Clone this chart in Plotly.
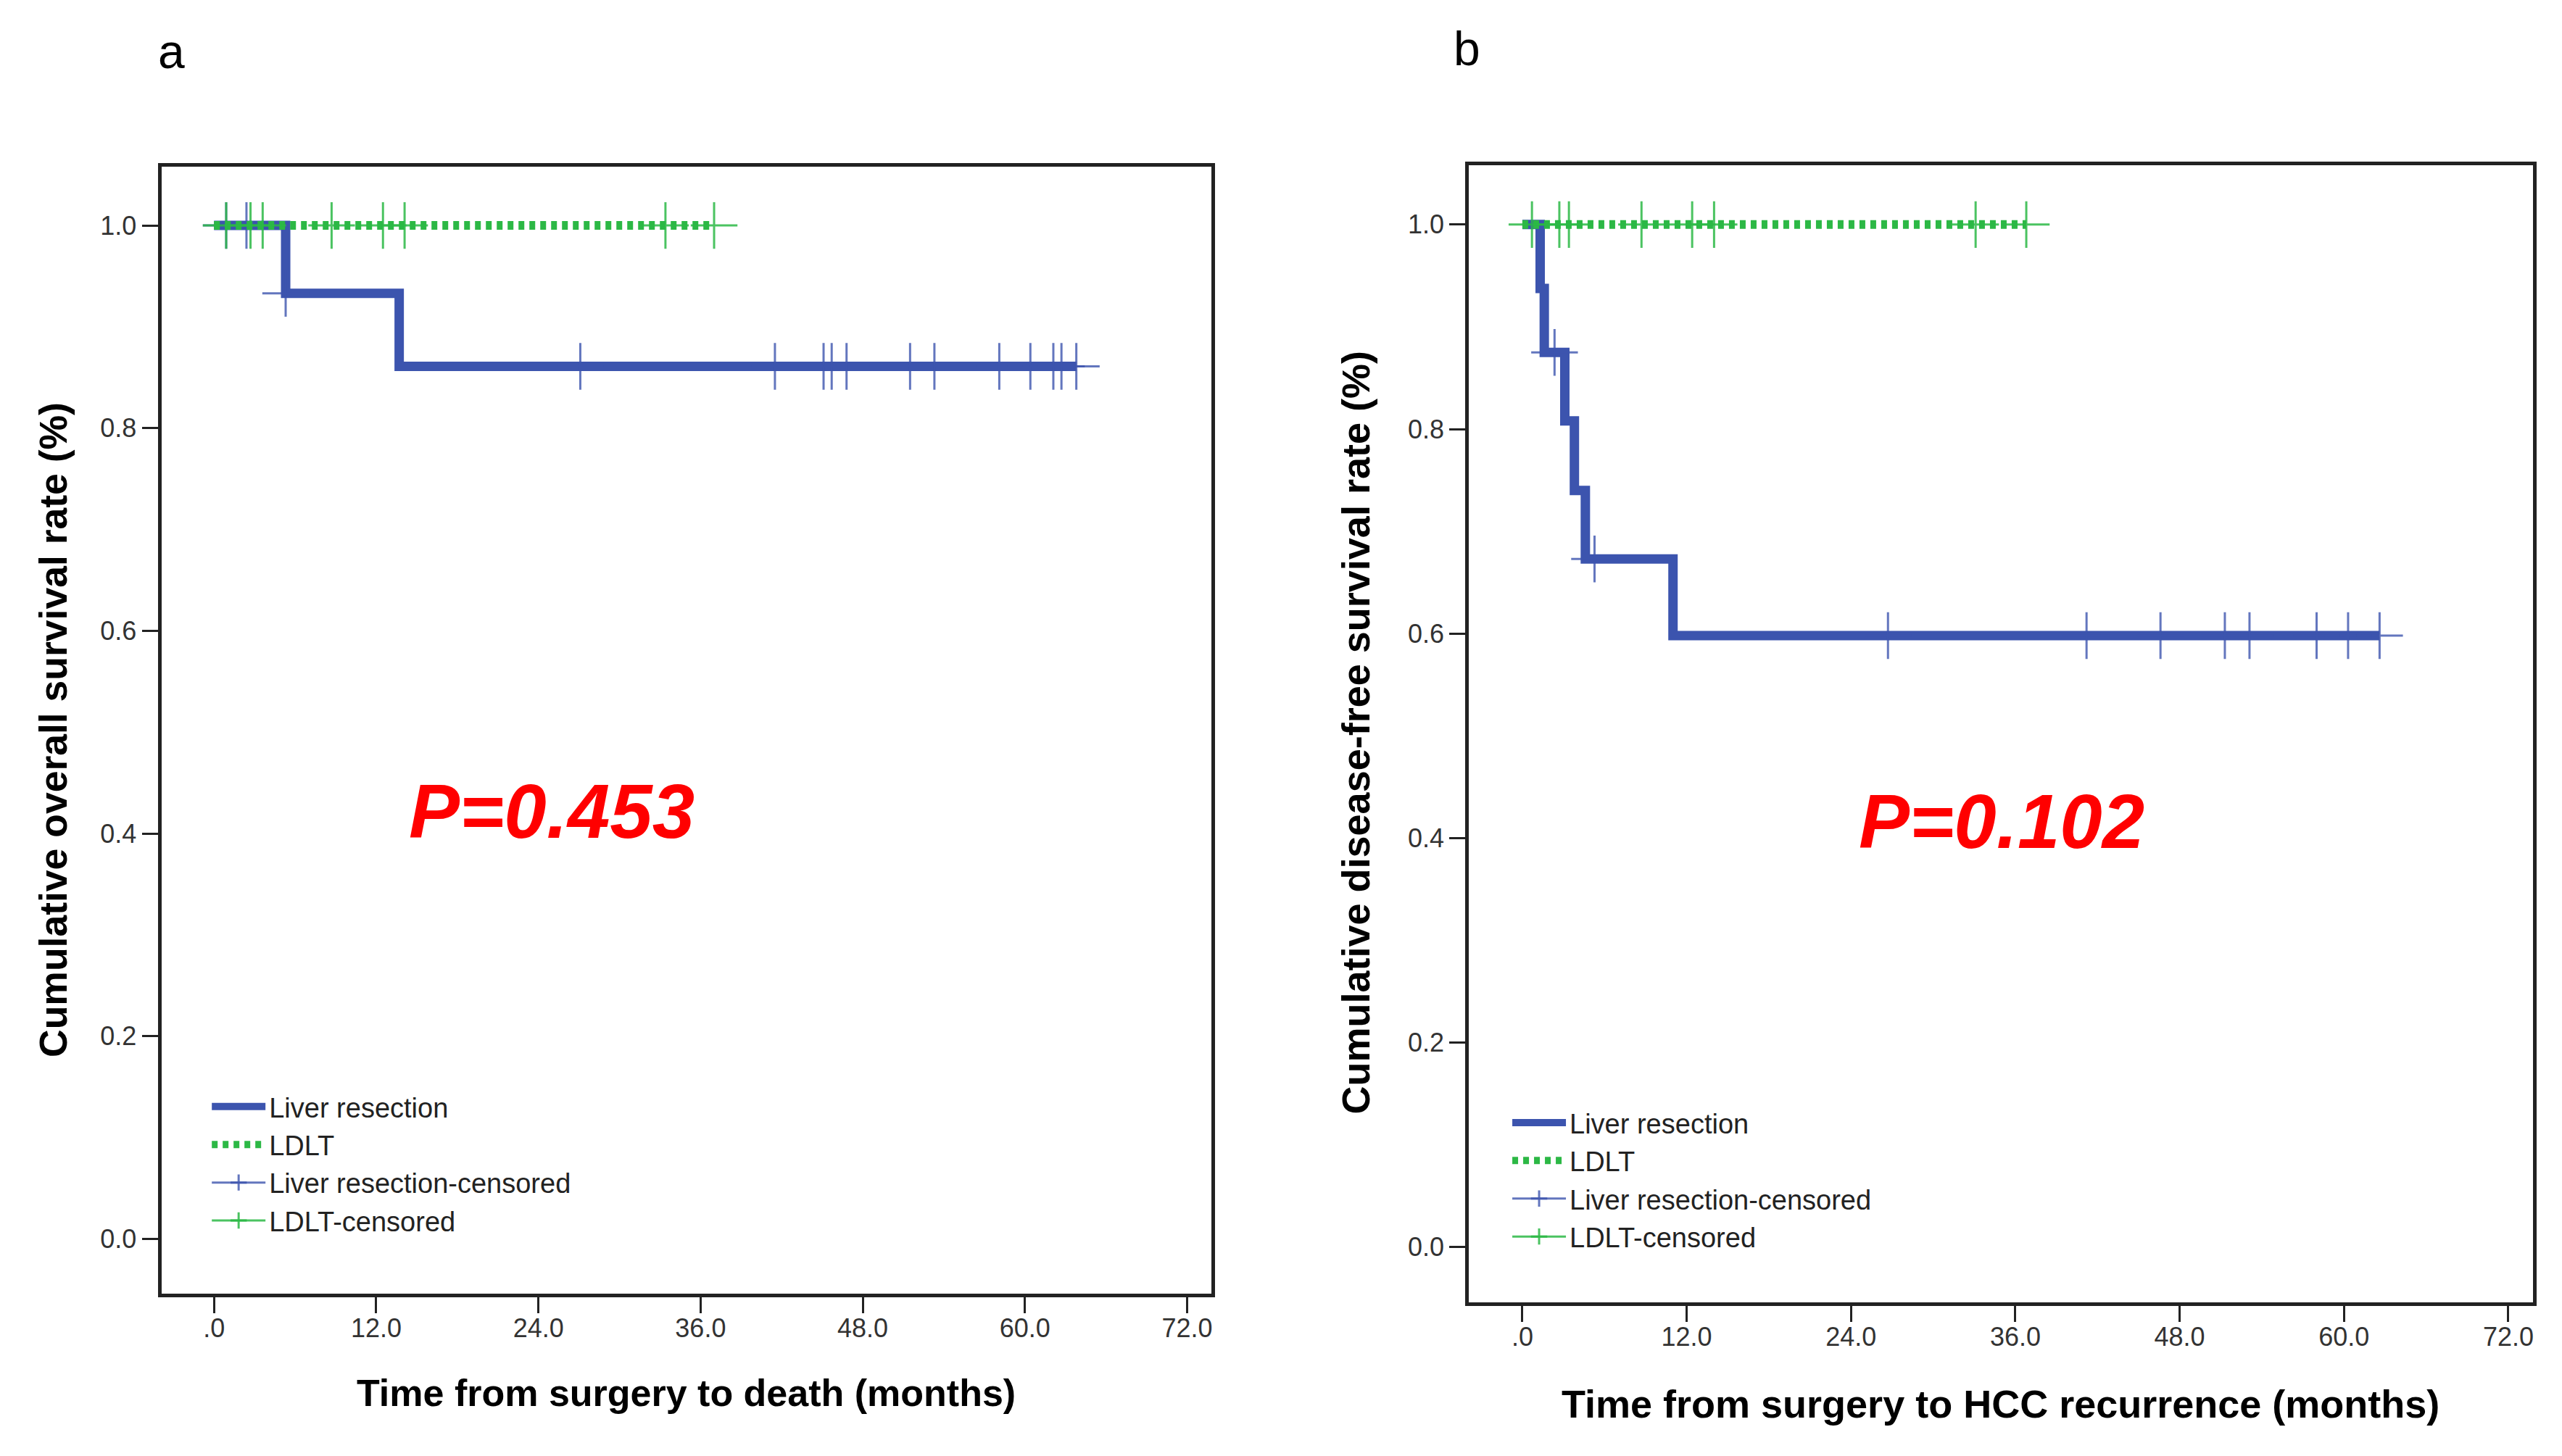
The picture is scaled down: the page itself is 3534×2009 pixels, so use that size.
import plotly.graph_objects as go

# Panel a - overall survival
os_lr_time = [0, 5.3, 13.7, 63.8]
os_lr_surv = [1.0, 0.933, 0.861, 0.861]
os_lr_cens_time = [0.9, 2.4, 5.3, 27.1, 41.5, 45.1, 45.7, 46.8, 51.5, 53.3, 58.1, 60.4, 62.1, 62.7, 63.8]
os_lr_cens_surv = [1.0, 1.0, 0.933] + [0.861] * 12

os_ldlt_time = [0, 37.0]
os_ldlt_surv = [1.0, 1.0]
os_ldlt_cens_time = [0.9, 2.7, 3.6, 8.7, 12.5, 14.1, 33.4, 37.0]
os_ldlt_cens_surv = [1.0] * 8

# Panel b - disease-free survival
dfs_lr_time = [0, 1.3, 1.6, 3.1, 3.8, 4.6, 11.0, 62.6]
dfs_lr_surv = [1.0, 0.9375, 0.875, 0.808, 0.740, 0.673, 0.598, 0.598]
dfs_lr_cens_time = [2.35, 5.27, 26.7, 41.2, 46.6, 51.3, 53.1, 58.0, 60.3, 62.6]
dfs_lr_cens_surv = [0.875, 0.673] + [0.598] * 8

dfs_ldlt_time = [0, 36.8]
dfs_ldlt_surv = [1.0, 1.0]
dfs_ldlt_cens_time = [0.7, 2.7, 3.4, 8.7, 12.4, 14.0, 33.1, 36.8]
dfs_ldlt_cens_surv = [1.0] * 8

x_ticks = [0, 12, 24, 36, 48, 60, 72]
x_ticktext = [".0", "12.0", "24.0", "36.0", "48.0", "60.0", "72.0"]
y_ticks = [0, 0.2, 0.4, 0.6, 0.8, 1.0]
y_ticktext = ["0.0", "0.2", "0.4", "0.6", "0.8", "1.0"]

BLUE = "#3C54AE"
GREEN = "#2CB845"
BLUE_CENS = "rgba(60,84,174,0.8)"
GREEN_CENS = "rgba(44,184,69,0.85)"
FONT = "Liberation Sans, Arial, sans-serif"

fig = go.Figure()


def add_panel(xa, ya, legend, lr_t, lr_s, lr_ct, lr_cs, ld_t, ld_s, ld_ct, ld_cs):
    # drawing order: blue line, blue censors, green line, green censors
    fig.add_trace(go.Scatter(x=lr_t, y=lr_s, mode="lines", line_shape="hv",
                             line=dict(color=BLUE, width=13), name="Liver resection",
                             xaxis=xa, yaxis=ya, legend=legend, legendrank=1))
    fig.add_trace(go.Scatter(x=lr_ct, y=lr_cs, mode="markers",
                             marker=dict(symbol="cross-thin-open", size=46, color=BLUE_CENS,
                                         line=dict(width=3)),
                             showlegend=False, xaxis=xa, yaxis=ya))
    fig.add_trace(go.Scatter(x=ld_t, y=ld_s, mode="lines", line_shape="hv",
                             line=dict(color=GREEN, width=12, dash="8px,7px"), name="LDLT",
                             xaxis=xa, yaxis=ya, legend=legend, legendrank=2))
    fig.add_trace(go.Scatter(x=ld_ct, y=ld_cs, mode="markers",
                             marker=dict(symbol="cross-thin-open", size=46, color=GREEN_CENS,
                                         line=dict(width=3)),
                             showlegend=False, xaxis=xa, yaxis=ya))
    # legend keys for the censor marks (SPSS draws them as a "+" on a short line)
    for name, col, rank in [("Liver resection-censored", BLUE_CENS, 3),
                            ("LDLT-censored", GREEN_CENS, 4)]:
        fig.add_trace(go.Scatter(x=[None], y=[None], mode="lines+markers", name=name,
                                 line=dict(color=col, width=3),
                                 marker=dict(symbol="cross-thin-open", size=16, color=col,
                                             line=dict(width=3)),
                                 xaxis=xa, yaxis=ya, legend=legend, legendrank=rank))


add_panel("x", "y", "legend", os_lr_time, os_lr_surv, os_lr_cens_time, os_lr_cens_surv,
          os_ldlt_time, os_ldlt_surv, os_ldlt_cens_time, os_ldlt_cens_surv)
add_panel("x2", "y2", "legend2", dfs_lr_time, dfs_lr_surv, dfs_lr_cens_time, dfs_lr_cens_surv,
          dfs_ldlt_time, dfs_ldlt_surv, dfs_ldlt_cens_time, dfs_ldlt_cens_surv)

xaxis_style = dict(range=[-3.9, 73.8], tickvals=x_ticks, ticktext=x_ticktext,
                   ticks="outside", ticklen=22, tickwidth=3, tickcolor="#222",
                   ticklabelstandoff=-10,
                   showline=True, linecolor="#222", linewidth=5, mirror=True,
                   showgrid=False, zeroline=False,
                   tickfont=dict(family=FONT, size=36, color="#333"))
yaxis_style = dict(range=[-0.054, 1.058], tickvals=y_ticks, ticktext=y_ticktext,
                   ticks="outside", ticklen=22, tickwidth=3, tickcolor="#222",
                   showline=True, linecolor="#222", linewidth=5, mirror=True,
                   showgrid=False, zeroline=False,
                   tickfont=dict(family=FONT, size=36, color="#333"))

legend_style = dict(font=dict(family=FONT, size=38, color="#222"), bgcolor="rgba(0,0,0,0)",
                    xanchor="left", yanchor="top", itemwidth=74, tracegroupgap=0,
                    traceorder="normal")

fig.update_layout(
    width=3534, height=2009,
    paper_bgcolor="white", plot_bgcolor="white",
    margin=dict(l=0, r=0, t=0, b=0),
    xaxis=dict(domain=[0.0607, 0.4706], anchor="y", **xaxis_style),
    yaxis=dict(domain=[0.1155, 0.8895], anchor="x", **yaxis_style),
    xaxis2=dict(domain=[0.5711, 0.9864], anchor="y2", **xaxis_style),
    yaxis2=dict(domain=[0.1095, 0.8905], anchor="x2", **yaxis_style),
    legend=dict(x=0.079, y=0.2595, **legend_style),
    legend2=dict(x=0.5866, y=0.2485, **legend_style),
)

fig.add_annotation(text="<b>Time from surgery to death (months)</b>", xref="paper", yref="paper",
                   x=0.2657, y=0.0475, xanchor="center", yanchor="middle",
                   showarrow=False, font=dict(family=FONT, size=52, color="black"))
fig.add_annotation(text="<b>Time from surgery to HCC recurrence (months)</b>", xref="paper", yref="paper",
                   x=0.7787, y=0.0397, xanchor="center", yanchor="middle",
                   showarrow=False, font=dict(family=FONT, size=54, color="black"))
fig.add_annotation(text="<b>Cumulative overall survival rate (%)</b>", xref="paper", yref="paper",
                   x=0.0186, y=0.5026, xanchor="center", yanchor="middle", textangle=-90,
                   showarrow=False, font=dict(family=FONT, size=53.5, color="black"))
fig.add_annotation(text="<b>Cumulative disease-free survival rate (%)</b>", xref="paper", yref="paper",
                   x=0.527, y=0.5007, xanchor="center", yanchor="middle", textangle=-90,
                   showarrow=False, font=dict(family=FONT, size=54, color="black"))

fig.add_annotation(text="a", xref="paper", yref="paper", x=0.0647, y=0.9685,
                   xanchor="center", yanchor="middle",
                   showarrow=False, font=dict(family=FONT, size=66, color="black"))
fig.add_annotation(text="b", xref="paper", yref="paper", x=0.5703, y=0.9705,
                   xanchor="center", yanchor="middle",
                   showarrow=False, font=dict(family=FONT, size=66, color="black"))

p_font = dict(family=FONT, size=105, color="#FF0000")
fig.add_annotation(text="<b><i>P=0.453</i></b>", xref="x", yref="y", x=25.0, y=0.422,
                   xanchor="center", yanchor="middle", showarrow=False, font=p_font)
fig.add_annotation(text="<b><i>P=0.102</i></b>", xref="x2", yref="y2", x=35.0, y=0.416,
                   xanchor="center", yanchor="middle", showarrow=False, font=p_font)

fig.write_html("out.html")
